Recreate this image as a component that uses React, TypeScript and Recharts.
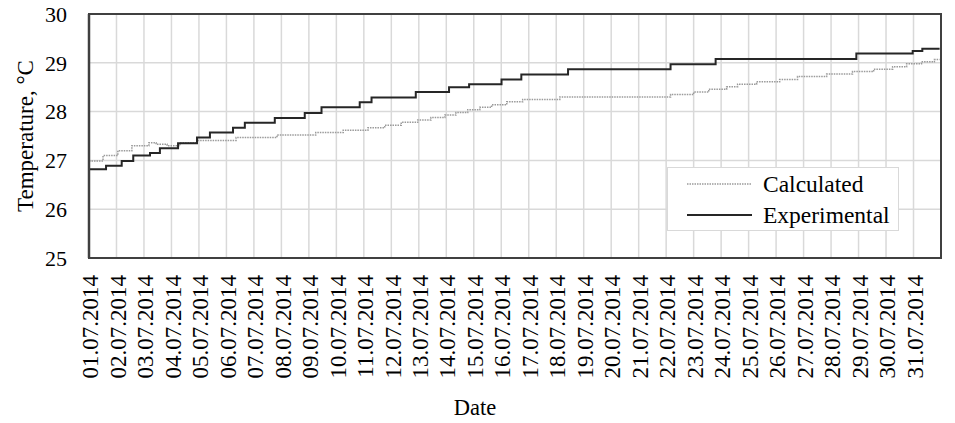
import React from 'react';
import { LineChart, Line, XAxis, YAxis, CartesianGrid, Legend, ReferenceArea } from 'recharts';

const dateLabels = [
  '01.07.2014', '02.07.2014', '03.07.2014', '04.07.2014', '05.07.2014', '06.07.2014', '07.07.2014', '08.07.2014',
  '09.07.2014', '10.07.2014', '11.07.2014', '12.07.2014', '13.07.2014', '14.07.2014', '15.07.2014', '16.07.2014',
  '17.07.2014', '18.07.2014', '19.07.2014', '20.07.2014', '21.07.2014', '22.07.2014', '23.07.2014', '24.07.2014',
  '25.07.2014', '26.07.2014', '27.07.2014', '28.07.2014', '29.07.2014', '30.07.2014', '31.07.2014',
];
const xTicks = [0, 1, 2, 3, 4, 5, 6, 7, 8, 9, 10, 11, 12, 13, 14, 15, 16, 17, 18, 19, 20, 21, 22, 23, 24, 25, 26, 27, 28, 29, 30];
const yTicks = [25, 26, 27, 28, 29, 30];

// Experimental: step change points (day offset from 01.07.2014, temperature)
const expDays = [0, 0.62, 1.19, 1.61, 2.22, 2.58, 3.24, 3.93, 4.4, 5.24, 5.67, 6.76, 7.85, 8.46, 9.85, 10.28, 11.89, 13.1, 13.83, 15.01, 15.73, 17.43, 21.16, 22.8, 27.92, 29.97, 30.32, 30.95];
const expTemps = [26.82, 26.89, 26.99, 27.1, 27.15, 27.25, 27.35, 27.47, 27.57, 27.67, 27.77, 27.87, 27.97, 28.09, 28.19, 28.29, 28.4, 28.5, 28.56, 28.66, 28.76, 28.87, 28.97, 29.08, 29.19, 29.24, 29.29, 29.29];

// Calculated
const calcDays = [0, 0.51, 1.05, 1.56, 2.18, 2.44, 2.84, 3.31, 3.93, 5.35, 6.84, 8.25, 9.25, 10.15, 10.76, 11.36, 11.96, 12.44, 12.95, 13.35, 13.78, 14.22, 14.65, 15.2, 15.78, 17.13, 21.16, 22.0, 22.55, 23.2, 23.6, 24.29, 25.13, 25.78, 26.84, 27.78, 28.55, 29.24, 29.75, 30.29, 30.76, 30.95];
const calcTemps = [26.99, 27.1, 27.2, 27.3, 27.36, 27.33, 27.3, 27.36, 27.41, 27.47, 27.52, 27.57, 27.62, 27.67, 27.72, 27.78, 27.83, 27.88, 27.93, 27.98, 28.04, 28.09, 28.14, 28.2, 28.25, 28.3, 28.35, 28.4, 28.46, 28.51, 28.56, 28.61, 28.66, 28.72, 28.77, 28.82, 28.87, 28.92, 28.98, 29.02, 29.07, 29.07];

const expData = expDays.map((d, i) => ({ d, t: expTemps[i] }));
const calcData = calcDays.map((d, i) => ({ d, t: calcTemps[i] }));

const FONT = '"Liberation Serif", "Times New Roman", serif';
const EXP_COLOR = '#262626';
const CALC_COLOR = '#9a9a9a';

const XTick = (props: any) => {
  const { x, y, payload } = props;
  const ty = y + 9;
  return (
    <text
      x={x}
      y={ty}
      transform={`rotate(-90 ${x} ${ty})`}
      textAnchor="end"
      dy="0.4em"
      fontFamily={FONT}
      fontSize={23}
      fill="#000"
    >
      {dateLabels[payload.value]}
    </text>
  );
};

const LegendBox = () => (
  <div
    style={{
      width: 232,
      height: 64,
      boxSizing: 'border-box',
      border: '1px solid #d9d9d9',
      background: '#fff',
      position: 'relative',
    }}
  >
    <svg width={232} height={64} style={{ position: 'absolute', left: -1, top: -1 }}>
      <line x1={20} x2={85} y1={17} y2={17} stroke={CALC_COLOR} strokeWidth={1.5} strokeDasharray="1.5 1" />
      <line x1={20} x2={85} y1={48} y2={48} stroke={EXP_COLOR} strokeWidth={2} />
      <text x={96} y={17} dy="0.35em" fontFamily={FONT} fontSize={23.5} fill="#000">Calculated</text>
      <text x={96} y={48} dy="0.35em" fontFamily={FONT} fontSize={23.5} fill="#000">Experimental</text>
    </svg>
  </div>
);

export default function App() {
  return (
    <div style={{ position: 'absolute', left: 0, top: 0, width: 955, height: 423, background: '#fff' }}>
      <LineChart width={955} height={423} margin={{ top: 14, right: 14, bottom: 0, left: 0 }}>
        <CartesianGrid stroke="#d9d9d9" strokeWidth={1.5} />
        <XAxis
          type="number"
          dataKey="d"
          domain={[0, 31]}
          ticks={xTicks}
          interval={0}
          height={165}
          tickLine={false}
          axisLine={{ stroke: '#404040', strokeWidth: 2 }}
          tick={<XTick />}
          allowDataOverflow
          label={{ value: 'Date', position: 'insideBottom', offset: 5, dx: -40, dy: -3, style: { fontFamily: FONT, fontSize: 22.5, fill: '#000' } }}
        />
        <YAxis
          type="number"
          domain={[25, 30]}
          ticks={yTicks}
          width={89}
          tickSize={0}
          tickMargin={22}
          tickLine={false}
          axisLine={{ stroke: '#404040', strokeWidth: 2.5 }}
          tick={{ fontFamily: FONT, fontSize: 22, fill: '#000' }}
          label={{ value: 'Temperature, °C', angle: -90, position: 'center', dx: -20, style: { fontFamily: FONT, fontSize: 23, fill: '#000', textAnchor: 'middle' } }}
        />
        <ReferenceArea x1={0} x2={31} y1={25} y2={30} fill="none" stroke="#404040" strokeWidth={2} ifOverflow="visible" />
        <Line
          data={calcData}
          dataKey="t"
          name="Calculated"
          type="stepAfter"
          stroke={CALC_COLOR}
          strokeWidth={1.5}
          strokeDasharray="1.5 1"
          dot={false}
          isAnimationActive={false}
        />
        <Line
          data={expData}
          dataKey="t"
          name="Experimental"
          type="stepAfter"
          stroke={EXP_COLOR}
          strokeWidth={2}
          dot={false}
          isAnimationActive={false}
        />
        <Legend
          layout="horizontal"
          verticalAlign="middle"
          align="center"
          content={<LegendBox />}
          wrapperStyle={{ left: 667, top: 167, width: 232, height: 64 }}
        />
      </LineChart>
    </div>
  );
}
